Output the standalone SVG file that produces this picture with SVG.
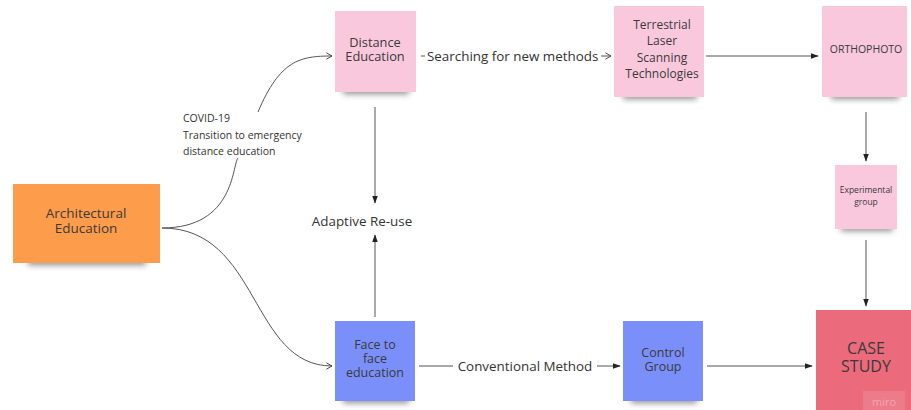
<svg xmlns="http://www.w3.org/2000/svg" width="911" height="410" viewBox="0 0 911 410">
<defs>
<filter id="sh" x="-20%" y="-100%" width="140%" height="300%"><feGaussianBlur stdDeviation="3"/></filter>
<marker id="fa" viewBox="0 0 10 10" refX="9" refY="5" markerWidth="8" markerHeight="8" markerUnits="userSpaceOnUse" orient="auto"><path d="M0,1.5 L10,5 L0,8.5 Z" fill="#222"/></marker>
<marker id="oa" viewBox="0 0 10 10" refX="9" refY="5" markerWidth="8" markerHeight="8" markerUnits="userSpaceOnUse" orient="auto"><path d="M2,1 L9,5 L2,9" fill="none" stroke="#444" stroke-width="1.2"/></marker>
</defs>
<style>
.t{font-family:"Open Sans","Liberation Sans",sans-serif;fill:#3a3a3a;text-anchor:middle}
.l{font-family:"Open Sans","Liberation Sans",sans-serif;fill:#333;font-size:13.4px}
.cv{font-family:"Open Sans","Liberation Sans",sans-serif;fill:#333;font-size:10.5px}
.c{fill:none;stroke:#555;stroke-width:1}
.s{fill:#000;opacity:0.45;filter:url(#sh)}
</style>
<rect width="911" height="410" fill="#fff"/>
<g id="connectors">
<path class="c" d="M162,228 C235,228 232,165 238,158"/>
<path class="c" d="M258,112 C280,60 300,56 332,56" marker-end="url(#oa)"/>
<path class="c" d="M162,228 C260,228 250,366 332,366" marker-end="url(#oa)"/>
<path class="c" d="M421,56 L425,56"/>
<path class="c" d="M601,56 L611,56" marker-end="url(#oa)"/>
<path class="c" d="M706,56 L818,56" marker-end="url(#fa)"/>
<path class="c" d="M866,112 L866,161" marker-end="url(#fa)"/>
<path class="c" d="M866,240 L866,306" marker-end="url(#fa)"/>
<path class="c" d="M375,107 L375,203" marker-end="url(#fa)"/>
<path class="c" d="M375,317 L375,235" marker-end="url(#fa)"/>
<path class="c" d="M419,366 L453,366"/>
<path class="c" d="M597,366 L620,366" marker-end="url(#fa)"/>
<path class="c" d="M707,366 L812,366" marker-end="url(#fa)"/>
<text class="cv" x="183" y="122">COVID-19</text>
<text class="cv" x="183" y="138.5">Transition to emergency</text>
<text class="cv" x="183" y="155">distance education</text>
<text class="l" x="427" y="61">Searching for new methods</text>
<text class="l" x="362" y="226" text-anchor="middle">Adaptive Re-use</text>
<text class="l" x="525" y="371" text-anchor="middle">Conventional Method</text>
</g>
<g id="architectural-education">
<rect class="s" x="28" y="257" width="118" height="8"/>
<rect x="13" y="184" width="147" height="79" fill="#fd9c4a"/>
<text class="t" x="86" y="218" font-size="13.5">Architectural</text>
<text class="t" x="86" y="233" font-size="13.5">Education</text>
</g>
<g id="distance-education">
<rect class="s" x="343" y="86" width="66" height="8"/>
<rect x="335" y="11" width="81" height="81" fill="#f9c8dc"/>
<text class="t" x="375" y="47" font-size="12.8">Distance</text>
<text class="t" x="375" y="61" font-size="12.8">Education</text>
</g>
<g id="terrestrial">
<rect class="s" x="623" y="91" width="74" height="8"/>
<rect x="614" y="6" width="90" height="91" fill="#f9c8dc"/>
<text class="t" x="662" y="29" font-size="12">Terrestrial</text>
<text class="t" x="662" y="45" font-size="12">Laser</text>
<text class="t" x="662" y="61.5" font-size="12">Scanning</text>
<text class="t" x="662" y="77.5" font-size="12">Technologies</text>
</g>
<g id="orthophoto">
<rect class="s" x="831" y="91" width="68" height="8"/>
<rect x="822" y="6" width="85" height="91" fill="#f9c8dc"/>
<text class="t" x="866" y="53" font-size="10.5">ORTHOPHOTO</text>
</g>
<g id="experimental-group">
<rect class="s" x="841" y="224" width="52" height="7"/>
<rect x="835" y="165" width="62" height="64" fill="#f9c8dc"/>
<text class="t" x="866" y="193" font-size="8.5">Experimental</text>
<text class="t" x="866" y="205" font-size="8.5">group</text>
</g>
<g id="face-to-face">
<rect class="s" x="343" y="395" width="66" height="8"/>
<rect x="335" y="321" width="80" height="80" fill="#7b8ffb"/>
<text class="t" x="375" y="349" font-size="12.5">Face to</text>
<text class="t" x="375" y="363" font-size="12.5">face</text>
<text class="t" x="375" y="377" font-size="12.5">education</text>
</g>
<g id="control-group">
<rect class="s" x="631" y="395" width="66" height="8"/>
<rect x="623" y="321" width="80" height="80" fill="#7b8ffb"/>
<text class="t" x="663" y="357" font-size="12.5">Control</text>
<text class="t" x="663" y="371" font-size="12.5">Group</text>
</g>
<g id="case-study">
<rect x="816" y="310" width="95" height="100" fill="#eb6a7c"/>
<text class="t" x="866" y="354" font-size="16">CASE</text>
<text class="t" x="866" y="372" font-size="16">STUDY</text>
<rect x="863" y="391" width="42" height="19" fill="#fff" opacity="0.12"/>
<text x="884" y="406" font-family="'Open Sans','Liberation Sans',sans-serif" font-size="11" fill="#f2a7b2" text-anchor="middle">miro</text>
</g>
</svg>
